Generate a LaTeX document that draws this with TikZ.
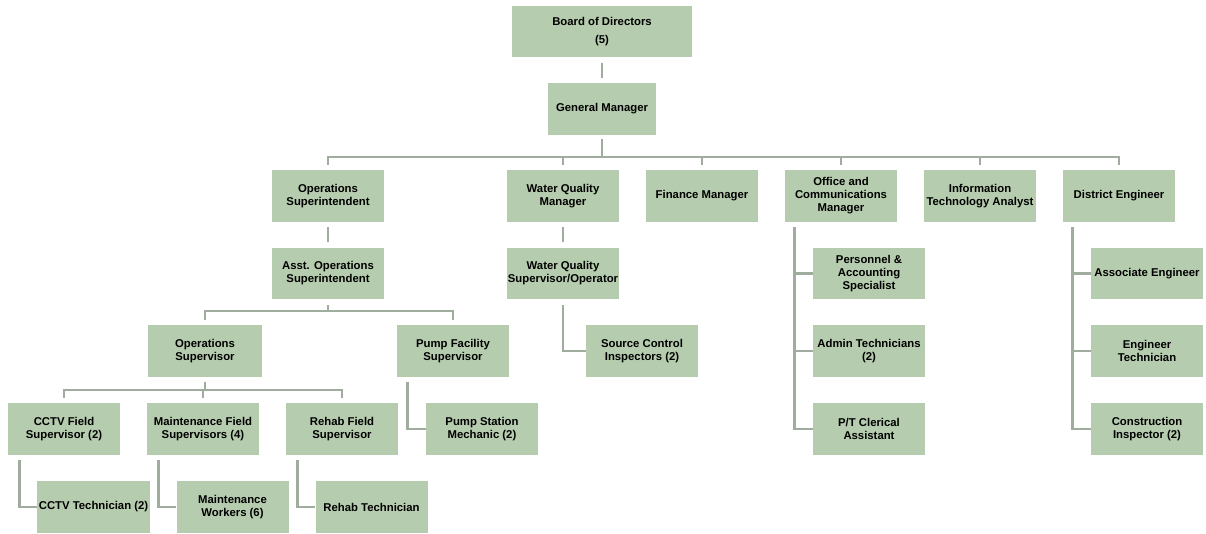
\documentclass[tikz,border=0pt]{standalone}
\usepackage{fontspec}
\setmainfont{Liberation Sans}
\definecolor{boxgreen}{RGB}{182,204,174}
\definecolor{linkgrey}{RGB}{160,172,158}
\tikzset{
  post/.style={fill=boxgreen, draw=none, align=center, inner sep=1pt,
    minimum width=84pt, minimum height=38.5pt,
    font=\fontsize{8.5}{9.8}\selectfont\bfseries},
  link/.style={draw=linkgrey, line width=2.2pt},
}
\begin{document}
\begin{tikzpicture}[x=0.75pt, y=-0.75pt]
\useasboundingbox (0,0) rectangle (1206,533);
% top
\node[post, minimum width=135pt] (bod) at (602,31.5) {Board of Directors\\[4pt](5)};
\node[post, minimum width=81pt] (gm) at (602,109) {General Manager};
\coordinate (topbus) at (602,157);
% second row
\node[post] (opsup) at (328,196) {Operations\\Superintendent};
\node[post] (wqm) at (563,196) {Water Quality\\Manager};
\node[post] (fin) at (702,196) {Finance Manager};
\node[post] (ocm) at (841,196) {Office and\\Communications\\Manager};
\node[post] (ita) at (980,196) {Information\\Technology Analyst};
\node[post] (de) at (1119,196) {District Engineer};
% operations branch
\node[post] (asst) at (328,273.5) {Asst. Operations\\Superintendent};
\coordinate (opsbus) at (328,311);
\node[post, minimum width=86pt] (opsv) at (205,351) {Operations\\Supervisor};
\node[post] (pfs) at (453,351) {Pump Facility\\Supervisor};
\coordinate (fieldbus) at (205,390);
\node[post] (cctvf) at (64,429) {CCTV Field\\Supervisor (2)};
\node[post] (mfs) at (203,429) {Maintenance Field\\Supervisors (4)};
\node[post] (rfs) at (342,429) {Rehab Field\\Supervisor};
\node[post] (psm) at (482,429) {Pump Station\\Mechanic (2)};
\node[post] (cctvt) at (93.5,507) {CCTV Technician (2)};
\node[post] (mw) at (232.5,507) {Maintenance\\Workers (6)};
\node[post] (rt) at (371.5,507) {Rehab Technician};
% water quality branch
\node[post] (wqs) at (563,273.5) {Water Quality\\Supervisor/Operator};
\node[post] (sci) at (642,351) {Source Control\\Inspectors (2)};
% office branch
\node[post] (pas) at (869,273.5) {Personnel \&\\Accounting\\Specialist};
\node[post] (adm) at (869,351) {Admin Technicians\\(2)};
\node[post] (ptc) at (869,429) {P/T Clerical\\Assistant};
% engineering branch
\node[post] (ae) at (1147,273.5) {Associate Engineer};
\node[post] (et) at (1147,351) {Engineer\\Technician};
\node[post] (ci) at (1147,429) {Construction\\Inspector (2)};
% connectors
\draw[link, shorten <=4pt, shorten >=4pt] (bod) -- (gm);
\draw[link, shorten <=3pt] (gm) -- (topbus);
\foreach \n in {opsup,wqm,fin,ocm,ita,de}
  \draw[link, shorten <=4pt] (\n.north) |- (topbus);
\draw[link, shorten <=4pt, shorten >=4pt] (opsup) -- (asst);
\draw[link, shorten <=4pt] (asst) -- (opsbus);
\foreach \n in {opsv,pfs}
  \draw[link, shorten <=4pt] (\n.north) |- (opsbus);
\draw[link, shorten <=4pt] (opsv) -- (fieldbus);
\foreach \n in {cctvf,mfs,rfs}
  \draw[link, shorten <=4pt] (\n.north) |- (fieldbus);
\draw[link, shorten <=4pt] ([xshift=9pt]cctvf.south west) |- (cctvt.west);
\draw[link, shorten <=4pt] ([xshift=9pt]mfs.south west) |- (mw.west);
\draw[link, shorten <=4pt] ([xshift=9pt]rfs.south west) |- (rt.west);
\draw[link, shorten <=4pt] ([xshift=8pt]pfs.south west) |- (psm.west);
\draw[link, shorten <=4pt, shorten >=4pt] (wqm) -- (wqs);
\draw[link, shorten <=4pt] (wqs) |- (sci.west);
\foreach \n in {pas,adm,ptc}
  \draw[link, shorten <=4pt] ([xshift=7.5pt]ocm.south west) |- (\n.west);
\foreach \n in {ae,et,ci}
  \draw[link, shorten <=4pt] ([xshift=7.5pt]de.south west) |- (\n.west);
\end{tikzpicture}
\end{document}
